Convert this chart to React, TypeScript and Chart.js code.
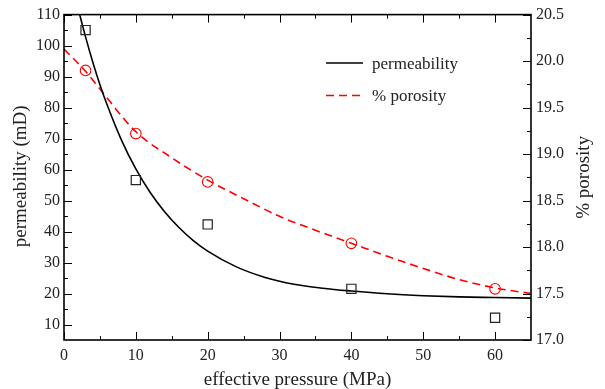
import React, { useEffect, useRef } from 'react';
import { Chart, registerables } from 'chart.js';

Chart.register(...registerables);

// measured samples
const pressureSamples = [3, 10, 20, 40, 60];
const permeabilitySamples = [105, 56.6, 42.3, 21.5, 12.2];
const porositySamples = [19.9, 19.22, 18.7, 18.04, 17.55];

// fitted curves
const permFitPressure = [2, 3, 4, 5, 6, 8, 10, 12, 14, 16, 18, 20, 24, 28, 32, 36, 40, 45, 50, 55, 60, 65];
const permFitValues = [111.6, 102.8, 94.7, 87.4, 80.9, 69.5, 60.2, 52.6, 46.4, 41.3, 37.1, 33.7, 28.6, 25.2, 23.0, 21.7, 20.8, 19.9, 19.3, 18.9, 18.7, 18.5];
const porFitPressure = [0, 3, 5, 10, 15, 20, 25, 30, 35, 40, 45, 50, 55, 60, 65];
const porFitValues = [20.13, 19.89, 19.7, 19.24, 18.96, 18.72, 18.52, 18.33, 18.18, 18.04, 17.9, 17.77, 17.65, 17.56, 17.5];

// axes
const xTicks = [0, 10, 20, 30, 40, 50, 60];
const xMinorTicks = [5, 15, 25, 35, 45, 55];
const leftTicks = [10, 20, 30, 40, 50, 60, 70, 80, 90, 100, 110];
const leftMinorTicks = [15, 25, 35, 45, 55, 65, 75, 85, 95, 105];
const rightTicks = [17.0, 17.5, 18.0, 18.5, 19.0, 19.5, 20.0, 20.5];
const rightMinorTicks = [17.25, 17.75, 18.25, 18.75, 19.25, 19.75, 20.25];

const xTitle = 'effective pressure (MPa)';
const leftTitle = 'permeability (mD)';
const rightTitle = '% porosity';
const legendLabels = ['permeability', '% porosity'];

const SERIF = '"Liberation Serif", "Times New Roman", serif';
const TEXT = '#222';
const RED = '#ff0000';
const DASH = [8, 5];

const framePlugin = {
  id: 'frame',
  afterDraw(chart: any) {
    const { ctx, chartArea: a, scales } = chart;
    const x = scales.x, y = scales.y, y1 = scales.y1;
    ctx.save();
    ctx.strokeStyle = '#000';
    ctx.lineWidth = 1;
    const major = 8, minor = 4;
    ctx.beginPath();
    const vt = (vals: number[], len: number) => {
      vals.forEach((v) => {
        const px = Math.round(x.getPixelForValue(v)) + 0.5;
        ctx.moveTo(px, a.bottom); ctx.lineTo(px, a.bottom - len);
        ctx.moveTo(px, a.top); ctx.lineTo(px, a.top + len);
      });
    };
    vt(xTicks, major); vt(xMinorTicks, minor);
    leftTicks.forEach((v) => { const py = Math.round(y.getPixelForValue(v)) + 0.5; ctx.moveTo(a.left, py); ctx.lineTo(a.left + major, py); });
    leftMinorTicks.forEach((v) => { const py = Math.round(y.getPixelForValue(v)) + 0.5; ctx.moveTo(a.left, py); ctx.lineTo(a.left + minor, py); });
    rightTicks.forEach((v) => { const py = Math.round(y1.getPixelForValue(v)) + 0.5; ctx.moveTo(a.right, py); ctx.lineTo(a.right - major, py); });
    rightMinorTicks.forEach((v) => { const py = Math.round(y1.getPixelForValue(v)) + 0.5; ctx.moveTo(a.right, py); ctx.lineTo(a.right - minor, py); });
    ctx.stroke();

    ctx.lineWidth = 1.6;
    ctx.strokeRect(a.left, a.top, a.right - a.left, a.bottom - a.top);

    // titles
    ctx.fillStyle = TEXT;
    ctx.font = `19px ${SERIF}`;
    ctx.textAlign = 'center';
    ctx.textBaseline = 'alphabetic';
    ctx.fillText(xTitle, (a.left + a.right) / 2, a.bottom + 45);
    const cy = (a.top + a.bottom) / 2;
    ctx.save();
    ctx.translate(a.left - 38, cy - 1);
    ctx.rotate(-Math.PI / 2);
    ctx.fillText(leftTitle, 0, 0);
    ctx.restore();
    ctx.save();
    ctx.translate(a.right + 58, cy);
    ctx.rotate(-Math.PI / 2);
    ctx.fillText(rightTitle, 0, 0);
    ctx.restore();

    // legend
    const lx0 = a.left + 262, lx1 = a.left + 299;
    const ly0 = 63, ly1 = 95.5;
    ctx.lineWidth = 1.6;
    ctx.strokeStyle = '#000';
    ctx.beginPath(); ctx.moveTo(lx0, ly0); ctx.lineTo(lx1, ly0); ctx.stroke();
    ctx.strokeStyle = RED;
    ctx.setLineDash(DASH);
    ctx.beginPath(); ctx.moveTo(lx0, ly1); ctx.lineTo(lx1, ly1); ctx.stroke();
    ctx.setLineDash([]);
    ctx.font = `17px ${SERIF}`;
    ctx.textAlign = 'left';
    ctx.fillStyle = TEXT;
    ctx.fillText(legendLabels[0], a.left + 308, 68.5);
    ctx.fillText(legendLabels[1], a.left + 308, 101);
    ctx.restore();
  },
};

export default function App() {
  const ref = useRef<HTMLCanvasElement | null>(null);
  useEffect(() => {
    if (!ref.current) return;
    const tickFont = { family: SERIF, size: 16 };
    const chart = new Chart(ref.current, {
      type: 'scatter',
      data: {
        datasets: [
          {
            label: legendLabels[0] + ' data',
            data: pressureSamples.map((p, i) => ({ x: p, y: permeabilitySamples[i] })),
            yAxisID: 'y',
            pointStyle: 'rect',
            pointRadius: 6.5,
            pointBorderColor: '#222',
            pointBackgroundColor: 'rgba(0,0,0,0)',
            pointBorderWidth: 1.2,
            showLine: false,
          },
          {
            label: legendLabels[1] + ' data',
            data: pressureSamples.map((p, i) => ({ x: p, y: porositySamples[i] })),
            yAxisID: 'y1',
            pointStyle: 'circle',
            pointRadius: 5.3,
            pointBorderColor: RED,
            pointBackgroundColor: 'rgba(0,0,0,0)',
            pointBorderWidth: 1.1,
            showLine: false,
          },
          {
            label: legendLabels[0],
            data: permFitPressure.map((p, i) => ({ x: p, y: permFitValues[i] })),
            yAxisID: 'y',
            showLine: true,
            pointRadius: 0,
            borderColor: '#000',
            borderWidth: 1.6,
            cubicInterpolationMode: 'monotone',
          },
          {
            label: legendLabels[1],
            data: porFitPressure.map((p, i) => ({ x: p, y: porFitValues[i] })),
            yAxisID: 'y1',
            showLine: true,
            pointRadius: 0,
            borderColor: RED,
            borderWidth: 1.6,
            borderDash: DASH,
            cubicInterpolationMode: 'monotone',
          },
        ],
      },
      options: {
        animation: false,
        responsive: true,
        maintainAspectRatio: false,
        layout: { padding: { top: 14, left: 0, right: 0, bottom: 0 } },
        plugins: { legend: { display: false }, tooltip: { enabled: false } },
        scales: {
          x: {
            type: 'linear',
            position: 'bottom',
            min: 0,
            max: 65,
            grid: { display: false, drawTicks: false },
            border: { display: false },
            afterBuildTicks: (s: any) => { s.ticks = xTicks.map((v) => ({ value: v })); },
            afterFit: (s: any) => { s.height = 49; },
            ticks: { font: tickFont, color: TEXT, padding: 6, maxRotation: 0, autoSkip: false, callback: (v: any) => String(v) },
          },
          y: {
            type: 'linear',
            position: 'left',
            min: 5,
            max: 110,
            grid: { display: false, drawTicks: false },
            border: { display: false },
            afterBuildTicks: (s: any) => { s.ticks = leftTicks.map((v) => ({ value: v })); },
            afterFit: (s: any) => { s.width = 64; },
            ticks: { font: tickFont, color: TEXT, padding: 4, autoSkip: false, callback: (v: any) => String(v) },
          },
          y1: {
            type: 'linear',
            position: 'right',
            min: 17,
            max: 20.5,
            grid: { display: false, drawTicks: false },
            border: { display: false },
            afterBuildTicks: (s: any) => { s.ticks = rightTicks.map((v) => ({ value: v })); },
            afterFit: (s: any) => { s.width = 74; },
            ticks: { font: tickFont, color: TEXT, padding: 5, autoSkip: false, callback: (v: any) => Number(v).toFixed(1) },
          },
        },
      },
      plugins: [framePlugin],
    } as any);
    return () => chart.destroy();
  }, []);
  return (
    <div style={{ position: 'absolute', left: 0, top: 0, width: 605, height: 389, background: '#fff' }}>
      <canvas ref={ref} />
    </div>
  );
}
